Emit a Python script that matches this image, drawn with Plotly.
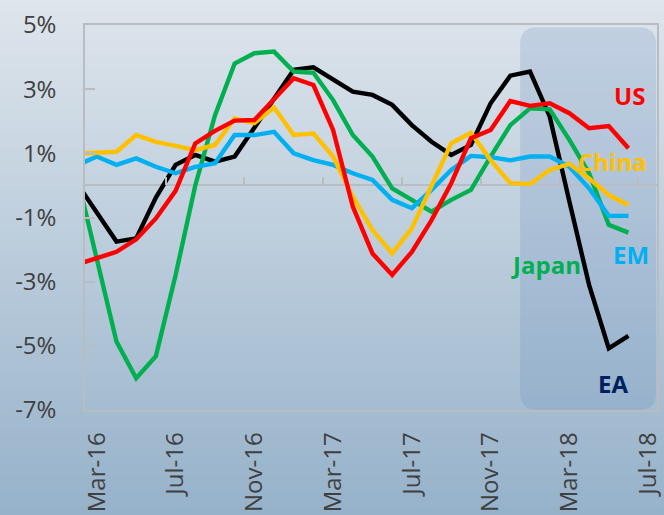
import plotly.graph_objects as go

# ---- data ----
months = ["Feb-16", "Mar-16", "Apr-16", "May-16", "Jun-16", "Jul-16", "Aug-16", "Sep-16", "Oct-16",
          "Nov-16", "Dec-16", "Jan-17", "Feb-17", "Mar-17", "Apr-17", "May-17", "Jun-17", "Jul-17",
          "Aug-17", "Sep-17", "Oct-17", "Nov-17", "Dec-17", "Jan-18", "Feb-18", "Mar-18", "Apr-18",
          "May-18", "Jun-18"]
tick_labels = ["Mar-16", "Jul-16", "Nov-16", "Mar-17", "Jul-17", "Nov-17", "Mar-18", "Jul-18"]

us = [-2.46, -2.26, -2.07, -1.68, -1.03, -0.17, 1.31, 1.70, 2.02, 2.04, 2.69, 3.34, 3.13, 1.73, -0.66,
      -2.12, -2.79, -2.07, -1.08, 0.07, 1.47, 1.73, 2.63, 2.48, 2.56, 2.25, 1.78, 1.85, 1.16]
china = [0.99, 1.02, 1.05, 1.57, 1.36, 1.23, 1.10, 1.26, 2.09, 1.94, 2.43, 1.57, 1.62, 0.90, -0.35,
         -1.39, -2.12, -1.34, -0.04, 1.31, 1.64, 0.79, 0.07, 0.04, 0.48, 0.67, 0.22, -0.30, -0.61]
em = [0.63, 0.90, 0.64, 0.84, 0.58, 0.38, 0.58, 0.69, 1.57, 1.57, 1.67, 1.00, 0.79, 0.64, 0.38,
      0.17, -0.45, -0.71, -0.14, 0.48, 0.92, 0.88, 0.78, 0.90, 0.90, 0.58, -0.09, -0.95, -0.95]
japan = [0.28, -2.35, -4.87, -6.01, -5.32, -2.80, 0.00, 2.18, 3.80, 4.12, 4.17, 3.55, 3.51, 2.66, 1.57,
         0.90, -0.09, -0.45, -0.82, -0.45, -0.14, 0.90, 1.88, 2.40, 2.37, 1.42, 0.38, -1.23, -1.47]
ea = [0.06, -0.84, -1.75, -1.65, -0.38, 0.64, 0.95, 0.74, 0.90, 1.80, 2.72, 3.60, 3.68, 3.29, 2.92,
      2.82, 2.51, 1.88, 1.36, 0.95, 1.26, 2.56, 3.42, 3.55, 2.15, -0.50, -3.10, -5.08, -4.69]

y_ticks = [-7, -5, -3, -1, 1, 3, 5]
y_tick_text = ["-7%", "-5%", "-3%", "-1%", "1%", "3%", "5%"]

# month index: Mar-16 = 0
x = [i - 1 for i in range(len(months))]
label_pos = [4 * k for k in range(len(tick_labels))]
minor_pos = [p + 3.5 for p in label_pos[:-1]]

series = [
    ("EA", ea, "#000000"),
    ("Japan", japan, "#00b050"),
    ("EM", em, "#00b0f0"),
    ("China", china, "#ffc000"),
    ("US", us, "#ff0000"),
]

fig = go.Figure()
for name, vals, col in series:
    fig.add_trace(go.Scatter(x=x, y=vals, mode="lines", name=name,
                             line=dict(color=col, width=4.4), hoverinfo="skip"))
# helper trace so the zero-line tick axis is drawn
fig.add_trace(go.Scatter(x=[x[1]], y=[0], xaxis="x2", mode="markers",
                         marker=dict(opacity=0), hoverinfo="skip", showlegend=False))

W, H = 664, 515
ml, mr, mt, mb = 85, 7, 25, 105
pw, ph = W - ml - mr, H - mt - mb

# background gradient bands (paper coords, covering whole page)
top = (222, 229, 236)
bot = (150, 178, 202)
n = 90
y_lo, y_hi = -mb / ph, 1 + mt / ph
shapes = []
for k in range(n):
    t = k / (n - 1)
    c = tuple(int(round(top[j] + (bot[j] - top[j]) * t)) for j in range(3))
    ya = y_hi - (y_hi - y_lo) * k / n
    yb = y_hi - (y_hi - y_lo) * (k + 1) / n - 0.002
    shapes.append(dict(type="rect", xref="paper", yref="paper", x0=-ml / pw - 0.01, x1=1 + mr / pw + 0.01,
                       y0=yb, y1=ya, fillcolor="rgb(%d,%d,%d)" % c, line=dict(width=0), layer="below"))

# rounded shaded region
x0, x1, y0, y1 = 21.5, 28.4, -7.0, 4.93
rx, ry = 0.86, 0.53
path = (f"M {x0+rx},{y1} L {x1-rx},{y1} Q {x1},{y1} {x1},{y1-ry} L {x1},{y0+ry} "
        f"Q {x1},{y0} {x1-rx},{y0} L {x0+rx},{y0} Q {x0},{y0} {x0},{y0+ry} "
        f"L {x0},{y1-ry} Q {x0},{y1} {x0+rx},{y1} Z")
shapes.append(dict(type="path", xref="x", yref="y", path=path,
                   fillcolor="rgba(105,140,190,0.22)", line=dict(width=0), layer="below"))

annots = [
    ("US", 27.06, 2.81, "#ff0000"),
    ("China", 26.19, 0.76, "#ffc000"),
    ("EM", 27.11, -2.14, "#00b0f0"),
    ("Japan", 22.79, -2.45, "#00b050"),
    ("EA", 26.22, -6.18, "#002060"),
]
annotations = [dict(x=ax, y=ay, xref="x", yref="y", text=t, showarrow=False,
                    font=dict(family="Open Sans", size=24, color=c, weight="bold"))
               for t, ax, ay, c in annots]

axis_col = "#b9bdc2"
fig.update_layout(
    width=W, height=H,
    margin=dict(l=ml, r=mr, t=mt, b=mb, autoexpand=False),
    paper_bgcolor="rgb(190,205,220)",
    plot_bgcolor="rgba(0,0,0,0)",
    showlegend=False,
    shapes=shapes,
    annotations=annotations,
    font=dict(family="Open Sans", color="#404040"),
    xaxis=dict(range=[-0.6, 28.45], tickvals=label_pos, ticktext=tick_labels, tickangle=-90,
               ticks="", showgrid=False, zeroline=False, showline=True, mirror=True,
               linecolor=axis_col, linewidth=1.5, ticklabelstandoff=11, automargin=False,
               tickfont=dict(size=24, color="#404040")),
    xaxis2=dict(overlaying="x", matches="x", anchor="free", position=7 / 12, side="bottom",
                ticks="inside", ticklen=8, tickwidth=1.5, tickcolor=axis_col, tickvals=minor_pos,
                showticklabels=False, showgrid=False, zeroline=False, showline=False, automargin=False),
    yaxis=dict(range=[-7, 5], tickvals=y_ticks, ticktext=y_tick_text, ticks="inside", ticklen=10,
               tickwidth=1.5, tickcolor=axis_col, showgrid=False, zeroline=True,
               zerolinecolor=axis_col, zerolinewidth=2, showline=True, mirror=True,
               linecolor=axis_col, linewidth=1.5, ticklabelstandoff=22, automargin=False,
               tickfont=dict(size=24, color="#404040")),
)

fig.write_html("out.html")
